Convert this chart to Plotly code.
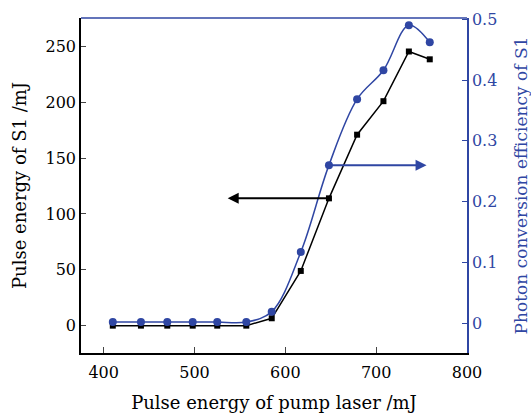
import plotly.graph_objects as go

pump = [410, 441, 470, 498, 525, 557, 585, 617, 648, 679, 708, 736, 759]
s1_energy = [0, 0, 0, 0, 0, 0, 6.6, 49, 114, 171, 201, 245.5, 238.5]
efficiency = [0.002, 0.002, 0.002, 0.002, 0.002, 0.002, 0.019, 0.117, 0.26, 0.3685, 0.416, 0.49, 0.462]

x_ticks = [400, 500, 600, 700, 800]
y_ticks = [0, 50, 100, 150, 200, 250]
y2_ticks = [0, 0.1, 0.2, 0.3, 0.4, 0.5]

BLUE = "#2f46a3"
FONT = "DejaVu Serif"

fig = go.Figure()
fig.add_trace(go.Scatter(
    x=pump, y=s1_energy, mode="lines+markers",
    line=dict(color="black", width=1.5),
    marker=dict(symbol="square", size=6, color="black"),
    yaxis="y", showlegend=False))
fig.add_trace(go.Scatter(
    x=pump, y=efficiency, mode="lines+markers",
    line=dict(color=BLUE, width=1.5, shape="spline", smoothing=1),
    marker=dict(symbol="circle", size=8, color=BLUE),
    yaxis="y2", showlegend=False))

# arrows
fig.add_annotation(x=536.5, y=114, ax=648, ay=114, xref="x", yref="y",
                   axref="x", ayref="y", text="", showarrow=True,
                   arrowhead=2, arrowsize=1.1, arrowwidth=2, arrowcolor="black")
fig.add_annotation(x=755.5, y=0.26, ax=648, ay=0.26, xref="x", yref="y2",
                   axref="x", ayref="y2", text="", showarrow=True,
                   arrowhead=2, arrowsize=1.1, arrowwidth=2, arrowcolor=BLUE)

# blue top border
fig.add_shape(type="line", xref="paper", yref="paper", x0=0, x1=1, y0=1, y1=1,
              line=dict(color=BLUE, width=1.5))

fig.update_layout(
    width=531, height=413,
    margin=dict(l=81, r=64, t=18, b=60),
    plot_bgcolor="white", paper_bgcolor="white",
    font=dict(family=FONT, size=16, color="black"),
    xaxis=dict(range=[375, 800], tickvals=x_ticks, ticks="inside", ticklen=6,
               showline=True, linecolor="black", linewidth=1.5, showgrid=False,
               zeroline=False, tickfont=dict(size=16), ticklabelstandoff=4,
               automargin=False,
               title=dict(text="Pulse energy of pump laser /mJ", font=dict(size=18), standoff=18)),
    yaxis=dict(range=[-24.5, 275.5], tickvals=y_ticks, ticks="inside", ticklen=5,
               showline=True, linecolor="black", linewidth=1.5, showgrid=False,
               zeroline=False, tickfont=dict(size=16), automargin=False,
               title=dict(text="Pulse energy of S1 /mJ", font=dict(size=18), standoff=14)),
    yaxis2=dict(range=[-0.049, 0.502], tickvals=y2_ticks, overlaying="y", side="right",
                ticks="inside", ticklen=5, showline=True, linecolor=BLUE, linewidth=1.5,
                tickcolor=BLUE, showgrid=False, zeroline=False, automargin=False,
                tickfont=dict(size=16, color=BLUE),
                title=dict(text="Photon conversion efficiency of S1",
                           font=dict(size=17, color=BLUE), standoff=20)),
)

fig.write_html("out.html")
